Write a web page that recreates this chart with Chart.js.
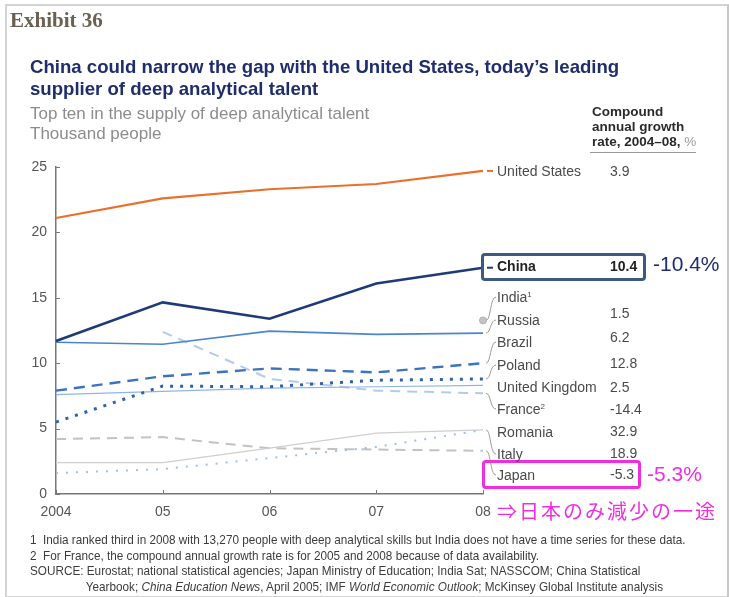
<!DOCTYPE html>
<html>
<head>
<meta charset="utf-8">
<script src="https://cdn.jsdelivr.net/npm/chart.js@4"></script>
<style>
  body { margin: 0; background: #fff; font-family: "Liberation Sans", Arial, sans-serif; }
  #wrap { position: relative; width: 729px; height: 597px; overflow: hidden; }
  #frame { position: absolute; left: 5px; top: 4px; width: 720px; height: 590px; border: 2px solid #d4d4d4; border-right-color: #c8c8c8; }
  canvas { position: absolute; left: 0; top: 0; }
  .t { position: absolute; white-space: nowrap; }
  #exhibit { left: 10px; top: 8px; font-family: "Liberation Serif", serif; font-weight: bold; font-size: 21px; color: #6a6152; }
  #title { left: 30px; top: 56px; font-size: 18.6px; line-height: 22px; color: #1f2d6d; font-weight: bold; }
  #sub { left: 30px; top: 104px; font-size: 17px; line-height: 20px; color: #8c8c8c; }
  #head { left: 592px; top: 104px; font-size: 13.5px; line-height: 15px; color: #2a2a2a; font-weight: bold; }
  #head span { color: #999; font-weight: normal; }
  #rule { position: absolute; left: 590px; top: 152px; width: 106px; height: 1px; background: #999; }
  .lab { position: absolute; left: 497px; font-size: 14px; color: #4a4a4a; transform: translateY(-50%); white-space: nowrap; }
  .val { position: absolute; left: 610px; font-size: 14px; color: #4a4a4a; transform: translateY(-50%); white-space: nowrap; }
  .lab sup { font-size: 8px; vertical-align: 5px; }
  .box { position: absolute; border-radius: 4px; }
  #cnBox { left: 481px; top: 253px; width: 159px; height: 22px; border: 3px solid #3c5a7e; }
  #jpBox { left: 482px; top: 460px; width: 153px; height: 23px; border: 3px solid #f02ee0; }
  #cnRate { left: 653px; top: 252px; font-size: 21px; color: #1f2d6d; }
  #jpRate { left: 647px; top: 462px; font-size: 21px; color: #f02ee0; }
  #jpNote { left: 497px; top: 496px; font-family: "Noto Sans CJK JP", sans-serif; font-size: 20px; color: #f02ee0; letter-spacing: 2px; }
  #notes { left: 30px; top: 532px; font-size: 13.5px; line-height: 15.5px; color: #3c3c3c; transform: scaleX(0.87); transform-origin: 0 0; }
  #notes .in { padding-left: 64px; }
</style>
</head>
<body>
<div id="wrap">
  <div id="frame"></div>
  <canvas id="chart" width="729" height="597"></canvas>
  <div class="t" id="exhibit">Exhibit 36</div>
  <div class="t" id="title">China could narrow the gap with the United States, today’s leading<br>supplier of deep analytical talent</div>
  <div class="t" id="sub">Top ten in the supply of deep analytical talent<br>Thousand people</div>
  <div class="t" id="head">Compound<br>annual growth<br>rate, 2004–08, <span>%</span></div>
  <div id="rule"></div>
  <div class="box" id="cnBox"></div>
  <div class="box" id="jpBox"></div>
  <div class="t" id="cnRate">-10.4%</div>
  <div class="t" id="jpRate">-5.3%</div>
  <div class="t" id="jpNote">⇒日本のみ減少の一途</div>
  <div id="labels"></div>
  <div class="t" id="notes">
    1&nbsp; India ranked third in 2008 with 13,270 people with deep analytical skills but India does not have a time series for these data.<br>
    2&nbsp; For France, the compound annual growth rate is for 2005 and 2008 because of data availability.<br>
    SOURCE: Eurostat; national statistical agencies; Japan Ministry of Education; India Sat; NASSCOM; China Statistical<br>
    <span class="in">Yearbook; <i>China Education News</i>, April 2005; IMF <i>World Economic Outlook</i>; McKinsey Global Institute analysis</span>
  </div>
</div>
<script>
const years = ['2004', '05', '06', '07', '08'];

// thousand people per year
const unitedStates = [21.1, 22.6, 23.3, 23.7, 24.7];
const china = [11.7, 14.65, 13.4, 16.1, 17.3];
const india = [null, null, null, null, 13.27];
const russia = [11.6, 11.45, 12.45, 12.2, 12.3];
const brazil = [7.9, 9.0, 9.6, 9.3, 10.0];
const poland = [5.5, 8.25, 8.2, 8.7, 8.8];
const unitedKingdom = [7.6, 7.85, 8.1, 8.2, 8.3];
const france = [null, 12.4, 8.8, 7.9, 7.7];
const romania = [1.6, 1.9, 2.75, 3.6, 4.9];
const italy = [2.4, 2.4, 3.5, 4.65, 4.9];
const japan = [4.2, 4.35, 3.5, 3.4, 3.3];

const countries = ['United States', 'China', 'India', 'Russia', 'Brazil', 'Poland', 'United Kingdom', 'France', 'Romania', 'Italy', 'Japan'];
const growthRates = ['3.9', '10.4', '', '1.5', '6.2', '12.8', '2.5', '-14.4', '32.9', '18.9', '-5.3'];

// where each name sits in the column to the right of the plot
const labelY = [171, 266, 297, 320, 342, 365, 387, 409, 432, 454, 475];
const valueY = [171, 266, 297, 313, 337, 363, 387, 409, 431, 453, 474];

const labelsEl = document.getElementById('labels');
countries.forEach((name, i) => {
    const lab = document.createElement('div');
    lab.className = 'lab';
    lab.style.top = labelY[i] + 'px';
    if (name === 'India') lab.innerHTML = 'India<sup>1</sup>';
    else if (name === 'France') lab.innerHTML = 'France<sup>2</sup>';
    else lab.textContent = name;
    if (name === 'China') { lab.style.fontWeight = 'bold'; lab.style.color = '#222'; }
    labelsEl.appendChild(lab);

    if (growthRates[i]) {
        const val = document.createElement('div');
        val.className = 'val';
        val.style.top = valueY[i] + 'px';
        val.textContent = growthRates[i];
        if (name === 'China') { val.style.fontWeight = 'bold'; val.style.color = '#222'; }
        labelsEl.appendChild(val);
    }
});

function series(data, color, width, dash) {
    return {
        data: data,
        borderColor: color,
        borderWidth: width,
        borderDash: dash || [],
        pointRadius: 0,
        tension: 0,
        fill: false
    };
}

const datasets = [
    series(unitedStates, '#e8702a', 2.2),
    series(china, '#1f3a78', 2.6),
    Object.assign(series(india, '#b8b8b8', 1), { pointRadius: 3.5, pointBackgroundColor: '#c4c4c4', pointBorderColor: '#b0b0b0' }),
    series(russia, '#4a86cc', 1.6),
    series(brazil, '#3b74bd', 2.4, [11, 7]),
    series(poland, '#2f62aa', 3, [3, 7]),
    series(unitedKingdom, '#8fb6e6', 1.2),
    series(france, '#b4cbe8', 2, [10, 7]),
    series(romania, '#9cc2ea', 2, [2, 8]),
    series(italy, '#cfcfcf', 1.3),
    series(japan, '#c2c2c2', 2, [10, 7])
];

// short connectors from each line end to its name
const leaders = {
    id: 'leaders',
    afterDatasetsDraw(chart) {
        const ctx = chart.ctx;
        const xs = chart.scales.x;
        const ys = chart.scales.y;
        const x0 = xs.getPixelForValue(4);
        ctx.save();
        datasets.forEach((ds, i) => {
            const y0 = ys.getPixelForValue(ds.data[4]);
            const y1 = labelY[i];
            ctx.beginPath();
            if (i < 2) {
                ctx.strokeStyle = ds.borderColor;
                ctx.lineWidth = 2;
                ctx.moveTo(x0 + 4, y0);
                ctx.lineTo(x0 + 10, y0);
            } else if (Math.abs(y1 - y0) > 6) {
                ctx.strokeStyle = '#9a9a9a';
                ctx.lineWidth = 1;
                ctx.moveTo(x0 + 3, y0);
                ctx.bezierCurveTo(x0 + 8, y0, x0 + 7, y1, x0 + 13, y1);
            }
            ctx.stroke();
        });
        ctx.restore();
    }
};

// tick marks pointing into the plot
const innerTicks = {
    id: 'innerTicks',
    afterDraw(chart) {
        const ctx = chart.ctx;
        const xs = chart.scales.x;
        const ys = chart.scales.y;
        const area = chart.chartArea;
        ctx.save();
        ctx.strokeStyle = '#777';
        ctx.lineWidth = 1;
        ctx.beginPath();
        ys.ticks.forEach((t, i) => {
            const y = Math.round(ys.getPixelForTick(i)) + 0.5;
            ctx.moveTo(area.left, y);
            ctx.lineTo(area.left + 4, y);
        });
        xs.ticks.forEach((t, i) => {
            const x = Math.round(xs.getPixelForTick(i)) + 0.5;
            ctx.moveTo(x, area.bottom);
            ctx.lineTo(x, area.bottom - 4);
        });
        ctx.stroke();
        ctx.restore();
    }
};

new Chart(document.getElementById('chart').getContext('2d'), {
    type: 'line',
    data: { labels: years, datasets: datasets },
    options: {
        responsive: false,
        animation: false,
        layout: { padding: { left: 16, right: 246, top: 167, bottom: 77 } },
        plugins: { legend: { display: false }, tooltip: { enabled: false } },
        scales: {
            x: {
                offset: false,
                grid: { display: false, drawTicks: false },
                border: { display: true, color: '#777', width: 1.5 },
                ticks: { color: '#555', font: { family: 'Liberation Sans', size: 14 }, padding: 10, maxRotation: 0 },
                afterFit: s => { s.height = 26; }
            },
            y: {
                min: 0,
                max: 25,
                grid: { display: false, drawTicks: false },
                border: { display: true, color: '#777', width: 1.5 },
                ticks: { stepSize: 5, color: '#555', font: { family: 'Liberation Sans', size: 14 }, padding: 9 },
                afterFit: s => { s.width = 40; }
            }
        }
    },
    plugins: [leaders, innerTicks]
});
</script>
</body>
</html>
